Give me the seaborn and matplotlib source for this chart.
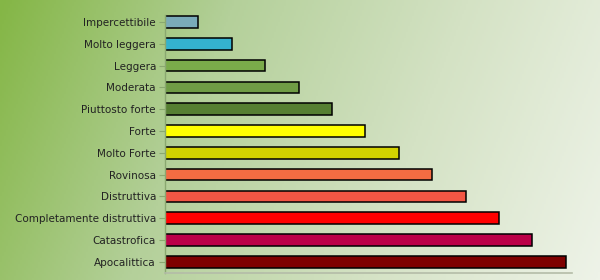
import numpy as np
import pandas as pd
import matplotlib
matplotlib.use("Agg")
import matplotlib.pyplot as plt
import seaborn as sns
from matplotlib.colors import LinearSegmentedColormap

categories = ["Impercettibile", "Molto leggera", "Leggera", "Moderata", "Piuttosto forte",
              "Forte", "Molto Forte", "Rovinosa", "Distruttiva",
              "Completamente distruttiva", "Catastrofica", "Apocalittica"]
values = [1, 2, 3, 4, 5, 6, 7, 8, 9, 10, 11, 12]
colors = ["#7aabb9", "#34b2cf", "#7aab4a", "#6f9c45", "#567f32", "#ffff00",
          "#d2d200", "#f46c42", "#f25644", "#ff0000", "#bb0048", "#7e0000"]

sns.set_theme(style="white")
plt.rcParams['font.family'] = ['DejaVu Sans']

fig = plt.figure(figsize=(6, 2.8), dpi=100)

# background gradient
bg = fig.add_axes([0, 0, 1, 1], zorder=0)
xx, yy = np.meshgrid(np.linspace(0, 1, 300), np.linspace(0, 1, 140))
t = np.clip(0.85 * xx + 0.15 * yy, 0, 1)
cmap = LinearSegmentedColormap.from_list("bg", ["#84b646", "#b4d09a", "#d4e2c4", "#eef3e8"])
bg.imshow(t, cmap=cmap, aspect="auto", extent=[0, 1, 0, 1], origin="upper")
bg.axis("off")

ax = fig.add_axes([0.275, 0.024, 0.679, 0.9225], zorder=1)
ax.patch.set_alpha(0)

df = pd.DataFrame({"cat": categories, "val": values})
sns.barplot(data=df, y="cat", x="val", hue="cat", palette=dict(zip(categories, colors)),
            order=categories, legend=False, orient="h", width=0.53,
            edgecolor="black", linewidth=1.1, ax=ax, saturation=1)

ax.set_xlim(0, 12.2)
ax.set_ylim(11.53, -0.32)
ax.set_xlabel("")
ax.set_ylabel("")
ax.set_xticks([])
for s in ["top", "right"]:
    ax.spines[s].set_visible(False)
ax.spines["left"].set_color("#8aa870")
ax.spines["left"].set_linewidth(1)
ax.spines["bottom"].set_color("#b4bca8")
ax.spines["bottom"].set_linewidth(1.2)
ax.tick_params(axis="y", length=4.5, width=0.8, color="#8aa870", pad=2,
               labelsize=7.5, labelcolor="#222222", left=True)

fig.savefig("out.png", dpi=100)
